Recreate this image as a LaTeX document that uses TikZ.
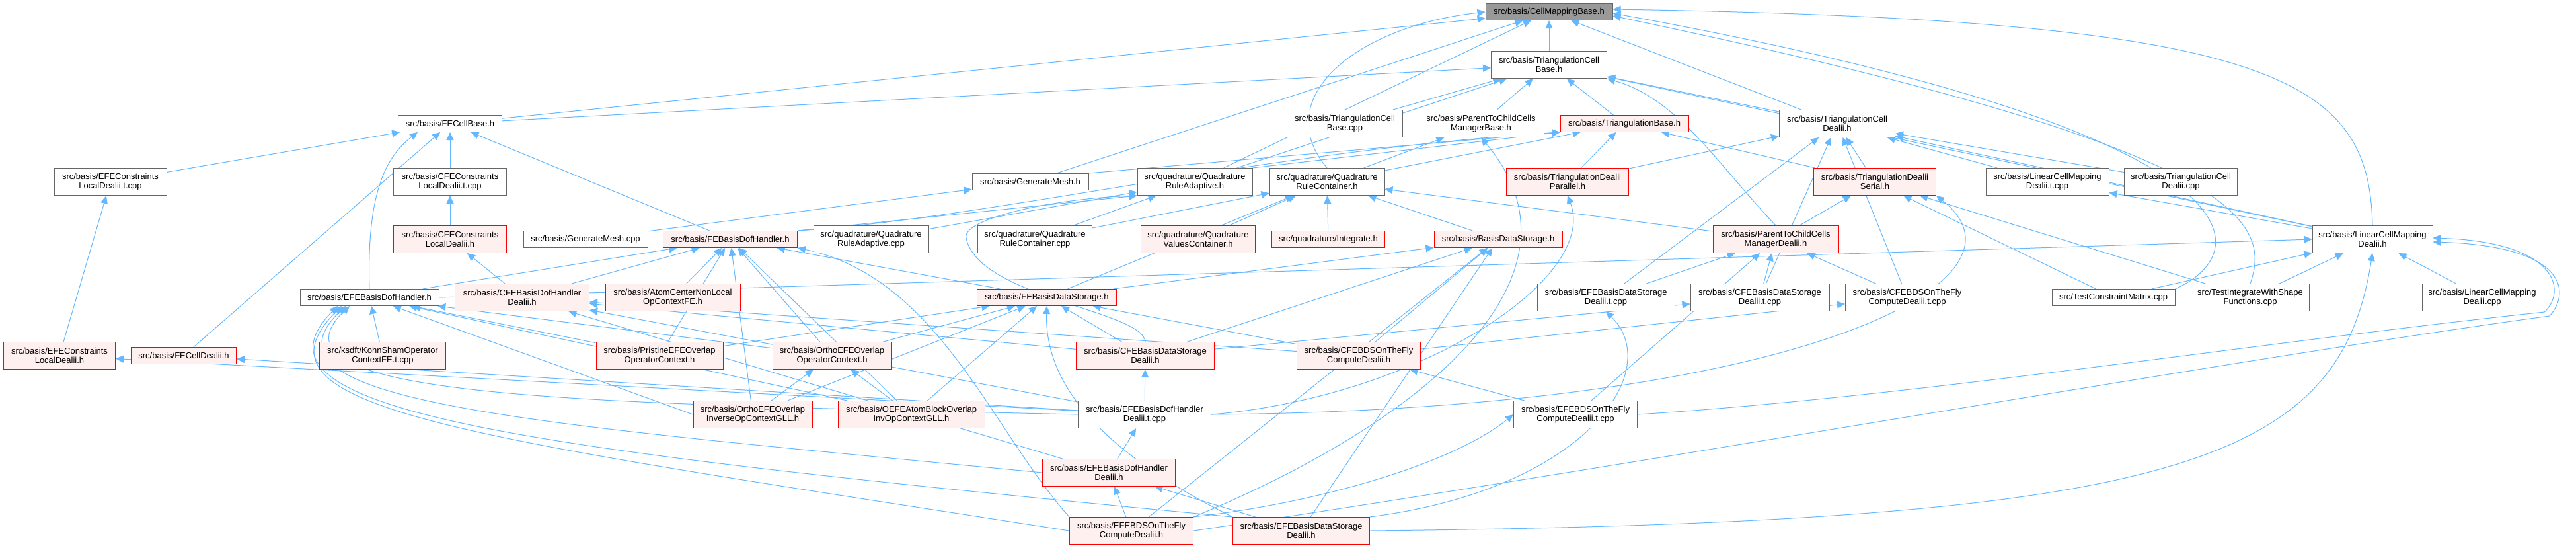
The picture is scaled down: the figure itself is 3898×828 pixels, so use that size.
\documentclass[tikz,border=0pt]{standalone}
\usepackage{fontspec}
\newfontfamily\dxfont{Liberation Sans}
\usetikzlibrary{arrows.meta, backgrounds}
\definecolor{inclblue}{HTML}{63B8FF}
\definecolor{truncfill}{HTML}{FFF0F0}
\definecolor{rootfill}{HTML}{999999}
\definecolor{boxgray}{HTML}{666666}

\begin{document}
\begin{tikzpicture}[
  x=1pt, y=-1pt,
  dbox/.style={rectangle, draw=boxgray, fill=white, line width=1pt,
               font=\dxfont\fontsize{13}{14.5}\selectfont, align=center, inner sep=2pt},
  gbox/.style={dbox},
  rbox/.style={dbox, draw=red, fill=truncfill},
  rootbox/.style={dbox, fill=rootfill},
  oneline/.style={minimum height=25pt},
  twoline/.style={minimum height=41pt},
  wd/.style={minimum width=#1pt},
  incl/.style={-{Triangle[length=12pt,width=11pt]}, line width=1pt, color=inclblue},
]
  \useasboundingbox (0,0) rectangle (3898,828);

  % Root
  \node[rootbox, oneline, wd=192] (CMB) at (2344,18) {src/basis/CellMappingBase.h};
  % Level 1
  \node[gbox, twoline, wd=175] (TCB) at (2344,98) {src/basis/TriangulationCell\\Base.h};
  % Level 2
  \node[gbox, oneline, wd=157] (FCB)    at (681,187)  {src/basis/FECellBase.h};
  \node[gbox, twoline, wd=175] (TCBcpp) at (2035,187) {src/basis/TriangulationCell\\Base.cpp};
  \node[gbox, twoline, wd=191] (PCMB)   at (2241,187) {src/basis/ParentToChildCells\\ManagerBase.h};
  \node[rbox, oneline, wd=194] (TB)     at (2458,187) {src/basis/TriangulationBase.h};
  \node[gbox, twoline, wd=175] (TCD)    at (2780,187) {src/basis/TriangulationCell\\Dealii.h};
  % Level 3
  \node[gbox, twoline, wd=170] (EFECLt) at (167,275)  {src/basis/EFEConstraints\\LocalDealii.t.cpp};
  \node[gbox, twoline, wd=171] (CFECLt) at (681,275)  {src/basis/CFEConstraints\\LocalDealii.t.cpp};
  \node[gbox, oneline, wd=176] (GMh)    at (1559,275) {src/basis/GenerateMesh.h};
  \node[gbox, twoline, wd=174] (QRA)    at (1808,275) {src/quadrature/Quadrature\\RuleAdaptive.h};
  \node[gbox, twoline, wd=174] (QRC)    at (2008,275) {src/quadrature/Quadrature\\RuleContainer.h};
  \node[rbox, twoline, wd=185] (TDP)    at (2372,275) {src/basis/TriangulationDealii\\Parallel.h};
  \node[rbox, twoline, wd=185] (TDS)    at (2837,275) {src/basis/TriangulationDealii\\Serial.h};
  \node[gbox, twoline, wd=186] (LCMt)   at (3098,275) {src/basis/LinearCellMapping\\Dealii.t.cpp};
  \node[gbox, twoline, wd=171] (TCDcpp) at (3300,275) {src/basis/TriangulationCell\\Dealii.cpp};
  % Level 4
  \node[rbox, twoline, wd=171] (CFECL)  at (681,362)  {src/basis/CFEConstraints\\LocalDealii.h};
  \node[gbox, oneline, wd=188] (GMcpp)  at (886,362)  {src/basis/GenerateMesh.cpp};
  \node[rbox, oneline, wd=203] (FEBDH)  at (1105,362) {src/basis/FEBasisDofHandler.h};
  \node[gbox, twoline, wd=174] (QRAcpp) at (1318,362) {src/quadrature/Quadrature\\RuleAdaptive.cpp};
  \node[gbox, twoline, wd=173] (QRCcpp) at (1566,362) {src/quadrature/Quadrature\\RuleContainer.cpp};
  \node[rbox, twoline, wd=173] (QVC)    at (1813,362) {src/quadrature/Quadrature\\ValuesContainer.h};
  \node[rbox, oneline, wd=171] (Int)    at (2010,362) {src/quadrature/Integrate.h};
  \node[rbox, oneline, wd=194] (BDS)    at (2267,362) {src/basis/BasisDataStorage.h};
  \node[rbox, twoline, wd=190] (PCMD)   at (2687,362) {src/basis/ParentToChildCells\\ManagerDealii.h};
  \node[gbox, twoline, wd=182] (LCM)    at (3590,362) {src/basis/LinearCellMapping\\Dealii.h};
  % Level 5
  \node[gbox, oneline, wd=210] (EFEBDH)   at (559,450)  {src/basis/EFEBasisDofHandler.h};
  \node[rbox, twoline, wd=203] (CFEBDHD)  at (790,450)  {src/basis/CFEBasisDofHandler\\Dealii.h};
  \node[rbox, twoline, wd=204] (ACNL)     at (1018,450) {src/basis/AtomCenterNonLocal\\OpContextFE.h};
  \node[rbox, oneline, wd=211] (FEBDS)    at (1584,450) {src/basis/FEBasisDataStorage.h};
  \node[gbox, twoline, wd=208] (EFEBDSDt) at (2430,450) {src/basis/EFEBasisDataStorage\\Dealii.t.cpp};
  \node[gbox, twoline, wd=210] (CFEBDSDt) at (2663,450) {src/basis/CFEBasisDataStorage\\Dealii.t.cpp};
  \node[gbox, twoline, wd=187] (CFEOTFt)  at (2886,450) {src/basis/CFEBDSOnTheFly\\ComputeDealii.t.cpp};
  \node[gbox, oneline, wd=186] (TCM)      at (3198,450) {src/TestConstraintMatrix.cpp};
  \node[gbox, twoline, wd=179] (TIWSF)    at (3405,450) {src/TestIntegrateWithShape\\Functions.cpp};
  \node[gbox, twoline, wd=181] (LCMcpp)   at (3756,450) {src/basis/LinearCellMapping\\Dealii.cpp};
  % Level 6
  \node[rbox, twoline, wd=169] (EFECL)   at (90,538)   {src/basis/EFEConstraints\\LocalDealii.h};
  \node[rbox, oneline, wd=159] (FCD)     at (278,538)  {src/basis/FECellDealii.h};
  \node[rbox, twoline, wd=191] (KS)      at (579,538)  {src/ksdft/KohnShamOperator\\ContextFE.t.cpp};
  \node[rbox, twoline, wd=192] (PEFE)    at (998,538)  {src/basis/PristineEFEOverlap\\OperatorContext.h};
  \node[rbox, twoline, wd=180] (OEFE)    at (1259,538) {src/basis/OrthoEFEOverlap\\OperatorContext.h};
  \node[rbox, twoline, wd=209] (CFEBDSD) at (1733,538) {src/basis/CFEBasisDataStorage\\Dealii.h};
  \node[rbox, twoline, wd=187] (CFEOTF)  at (2056,538) {src/basis/CFEBDSOnTheFly\\ComputeDealii.h};
  % Level 7
  \node[rbox, twoline, wd=180] (OEFEI)    at (1139,627) {src/basis/OrthoEFEOverlap\\InverseOpContextGLL.h};
  \node[rbox, twoline, wd=222] (OEFEAB)   at (1379,627) {src/basis/OEFEAtomBlockOverlap\\InvOpContextGLL.h};
  \node[gbox, twoline, wd=201] (EFEBDHDt) at (1732,627) {src/basis/EFEBasisDofHandler\\Dealii.t.cpp};
  \node[gbox, twoline, wd=187] (EFEOTFt)  at (2384,627) {src/basis/EFEBDSOnTheFly\\ComputeDealii.t.cpp};
  % Level 8 and 9
  \node[rbox, twoline, wd=201] (EFEBDHD) at (1678,715) {src/basis/EFEBasisDofHandler\\Dealii.h};
  \node[rbox, twoline, wd=187] (EFEOTF)  at (1712,803) {src/basis/EFEBDSOnTheFly\\ComputeDealii.h};
  \node[rbox, twoline, wd=207] (EFEBDSD) at (1969,803) {src/basis/EFEBasisDataStorage\\Dealii.h};

  \begin{scope}[on background layer]
  \fill[white] (0,0) rectangle (3898,828);
  % Into CellMappingBase.h
  \draw[incl] (TCB) -- (CMB);
  \draw[incl] (FCB) -- (CMB);
  \draw[incl] (GMh) -- (CMB);
  \draw[incl] (QRA) -- (CMB);
  \draw[incl] (QRC.north) .. controls (1920,150) and (2050,40) .. (CMB.west);
  \draw[incl] (TCD) -- (CMB);
  \draw[incl] (LCM.north) .. controls (3585,120) and (3450,30) .. ([yshift=4pt]CMB.east);
  \draw[incl] (TCM.north east) .. controls (3420,380) and (3430,200) .. ([yshift=-2pt]CMB.east);
  \draw[incl] (TIWSF.north) .. controls (3440,330) and (3380,220) .. ([yshift=-6pt]CMB.east);
  % Into TriangulationCellBase.h
  \draw[incl] (FCB) -- (TCB);
  \draw[incl] (QRA) -- (TCB);
  \draw[incl] (TCBcpp) -- (TCB);
  \draw[incl] (PCMB) -- (TCB);
  \draw[incl] (TB) -- (TCB);
  \draw[incl] (TCD) -- (TCB);
  \draw[incl] (PCMD.north) .. controls (2600,250) and (2540,150) .. (TCB.south east);
  \draw[incl] (LCM) -- (TCB);
  % Into FECellBase.h
  \draw[incl] (EFECLt) -- (FCB);
  \draw[incl] (CFECLt) -- (FCB);
  \draw[incl] (FEBDH) -- (FCB);
  \draw[incl] (FCD) -- (FCB);
  \draw[incl] (EFEBDH.north) .. controls (555,300) and (580,240) .. ([xshift=30pt]FCB.south west);
  % Constraints and mesh
  \draw[incl] (CFECL) -- (CFECLt);
  \draw[incl] (EFECL) -- (EFECLt);
  \draw[incl] (GMcpp) -- (GMh);
  \draw[incl] (GMh.north east) -- (TB.south west);
  % Quadrature
  \draw[incl] (QRAcpp) -- (QRA);
  \draw[incl] (QRCcpp) -- (QRA);
  \draw[incl] (FEBDH.north east) -- (QRA.south west);
  \draw[incl] (CFEBDSD.north) .. controls (1730,470) and (1480,450) .. (1462,360)
                              .. controls (1455,330) and (1600,300) .. (QRA.south west);
  \draw[incl] (QRA.north east) -- (TB.south west);
  \draw[incl] (QRCcpp) -- (QRC);
  \draw[incl] (Int) -- (QRC);
  \draw[incl] (BDS) -- (QRC);
  \draw[incl] (QVC) -- (QRC);
  \draw[incl] (PCMD) -- (QRC);
  \draw[incl] (FEBDS) -- (QRC);
  \draw[incl] (QRC) -- (TB);
  \draw[incl] (QRC) -- (PCMB);
  % Triangulation
  \draw[incl] (FEBDH.north east) .. controls (1500,330) and (1900,230) .. (TB.south west);
  \draw[incl] (TDP) -- (TB);
  \draw[incl] (TDS) -- (TB);
  \draw[incl] (TDP) -- (TCD);
  \draw[incl] (TDS) -- (TCD);
  \draw[incl] (LCMt) -- (TCD);
  \draw[incl] (TCDcpp) -- (TCD);
  \draw[incl] (LCM) -- (TCD);
  \draw[incl] (EFEBDSDt) -- (TCD);
  \draw[incl] (CFEBDSDt) -- (TCD);
  \draw[incl] (CFEOTFt) -- (TCD);
  \draw[incl] (PCMD) -- (TDS);
  \draw[incl] (TCM) -- (TDS);
  \draw[incl] (TIWSF) -- (TDS);
  \draw[incl] (EFEBDHDt.east) .. controls (2150,600) and (2420,420) .. (TDP.south);
  \draw[incl] (EFEBDHDt.east) .. controls (2700,620) and (3100,430) .. (TDS.south east);
  \draw[incl] (EFEOTF.north east) .. controls (2150,640) and (2420,420) .. (PCMB.south);
  % Linear cell mapping
  \draw[incl] (LCM) -- (LCMt);
  \draw[incl] (EFEBDH.east) -- (LCM.west);
  \draw[incl] (TCM) -- (LCM);
  \draw[incl] (TIWSF) -- (LCM);
  \draw[incl] (LCMcpp) -- (LCM);
  \draw[incl] (EFEBDSD.east) .. controls (3300,790) and (3540,700) .. (LCM.south);
  \draw[incl] (EFEOTF.east) .. controls (2500,700) and (3400,540) .. (3858,478)
                            .. controls (3892,440) and (3880,372) .. ([yshift=-4pt]LCM.east);
  \draw[incl] (EFEOTFt.east) .. controls (2900,600) and (3400,520) .. (3850,472)
                             .. controls (3885,440) and (3870,366) .. ([yshift=2pt]LCM.east);
  % Parent to child managers
  \draw[incl] (EFEBDSDt) -- (PCMD);
  \draw[incl] (CFEBDSDt) -- (PCMD);
  \draw[incl] (CFEOTFt) -- (PCMD);
  \draw[incl] (EFEOTFt) -- (PCMD);
  % Into FEBasisDofHandler.h
  \draw[incl] (EFEBDH) -- (FEBDH);
  \draw[incl] (CFEBDHD) -- (FEBDH);
  \draw[incl] (ACNL) -- (FEBDH);
  \draw[incl] (FEBDS) -- (FEBDH);
  \draw[incl] (PEFE) -- (FEBDH);
  \draw[incl] (OEFE) -- (FEBDH);
  \draw[incl] (OEFEI) -- (FEBDH);
  \draw[incl] (OEFEAB) -- (FEBDH);
  \draw[incl] (EFEOTF.north west) .. controls (1500,650) and (1420,420) .. (FEBDH.south east);
  \draw[incl] (CFEBDHD) -- (CFECL);
  % Into BasisDataStorage.h
  \draw[incl] (FEBDS) -- (BDS);
  \draw[incl] (CFEBDSD) -- (BDS);
  \draw[incl] (CFEOTF) -- (BDS);
  \draw[incl] (EFEBDSD) -- (BDS);
  \draw[incl] (EFEOTF) -- (BDS);
  % Into EFEBasisDofHandler.h
  \draw[incl] (KS) -- (EFEBDH);
  \draw[incl] (PEFE) -- (EFEBDH);
  \draw[incl] (OEFE) -- (EFEBDH);
  \draw[incl] (OEFEI.west) -- (EFEBDH);
  \draw[incl] (OEFEAB) -- (EFEBDH);
  \draw[incl] (EFEBDHDt.west) .. controls (900,610) and (380,605) .. ([xshift=-30pt]EFEBDH.south);
  \draw[incl] (EFEBDHD.west) .. controls (800,640) and (370,610) .. ([xshift=-36pt]EFEBDH.south);
  \draw[incl] (EFEOTF.west) .. controls (700,660) and (360,620) .. ([xshift=-42pt]EFEBDH.south);
  \draw[incl] (EFEBDSD.north west) .. controls (800,680) and (350,625) .. ([xshift=-48pt]EFEBDH.south);
  % Into CFEBasisDofHandlerDealii.h
  \draw[incl] (CFEBDSD) -- (CFEBDHD);
  \draw[incl] (CFEOTF) -- (CFEBDHD);
  \draw[incl] (EFEBDHDt) -- (CFEBDHD);
  \draw[incl] (EFEBDHD) -- (CFEBDHD);
  % Into FEBasisDataStorage.h
  \draw[incl] (PEFE) -- (FEBDS);
  \draw[incl] (OEFE) -- (FEBDS);
  \draw[incl] (OEFEI) -- (FEBDS);
  \draw[incl] (OEFEAB) -- (FEBDS);
  \draw[incl] (CFEBDSD) -- (FEBDS);
  \draw[incl] (CFEOTF) -- (FEBDS);
  \draw[incl] (EFEBDSD.north west) .. controls (1700,700) and (1580,600) .. (FEBDS.south);
  % Lower levels
  \draw[incl] (OEFEI) -- (OEFE);
  \draw[incl] (OEFEAB) -- (OEFE);
  \draw[incl] (CFEBDSD) -- (CFEBDSDt);
  \draw[incl] (CFEOTF) -- (CFEOTFt);
  \draw[incl] (EFEBDHDt) -- (EFECL);
  \draw[incl] (EFEBDHDt) -- (FCD);
  \draw[incl] (EFEBDHDt) -- (CFEBDSD);
  \draw[incl] (EFEOTFt) -- (CFEOTF);
  \draw[incl] (EFEBDHD) -- (EFEBDHDt);
  \draw[incl] (EFEOTF) -- (EFEBDHD);
  \draw[incl] (EFEBDSD) -- (EFEBDHD);
  \draw[incl] (EFEOTF.north east) .. controls (2000,760) and (2200,700) .. (EFEOTFt.west);
  \draw[incl] (EFEBDSD.north east) .. controls (2400,740) and (2520,560) .. (EFEBDSDt.south);
  \end{scope}
\end{tikzpicture}
\end{document}
